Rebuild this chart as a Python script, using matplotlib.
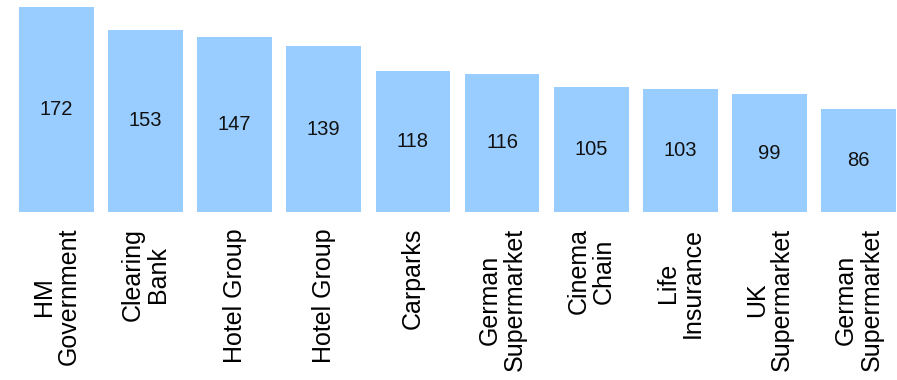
"""Bar chart of top counterparties with values inside the bars."""
import matplotlib
matplotlib.use("Agg")
import matplotlib.pyplot as plt
import numpy as np

categories = [
    "HM\nGovernment", "Clearing\nBank", "Hotel Group", "Hotel Group",
    "Carparks", "German\nSupermarket", "Cinema\nChain", "Life\nInsurance",
    "UK\nSupermarket", "German\nSupermarket",
]
values = [172, 153, 147, 139, 118, 116, 105, 103, 99, 86]

plt.rcParams["font.family"] = ["Liberation Sans", "DejaVu Sans"]

fig = plt.figure(figsize=(8.97, 3.80), dpi=100)
ax = fig.add_axes([19 / 897, 1 - 212 / 380, 877 / 897, 205 / 380])

x = np.arange(len(values))
bars = ax.bar(x, values, width=0.84, color="#99ccff")
for b, v in zip(bars, values):
    ax.text(b.get_x() + b.get_width() / 2, v / 2, str(v),
            ha="center", va="center", fontsize=14.5, color="#111111")

ax.set_xlim(-0.42, len(values) - 0.58)
ax.set_ylim(0, max(values))
ax.set_xticks(x)
ax.set_xticklabels(categories, rotation=90, fontsize=18, linespacing=1.08)
ax.tick_params(axis="x", length=0, pad=11.5)
ax.set_yticks([])
for s in ax.spines.values():
    s.set_visible(False)

fig.savefig("out.png", dpi=100)
